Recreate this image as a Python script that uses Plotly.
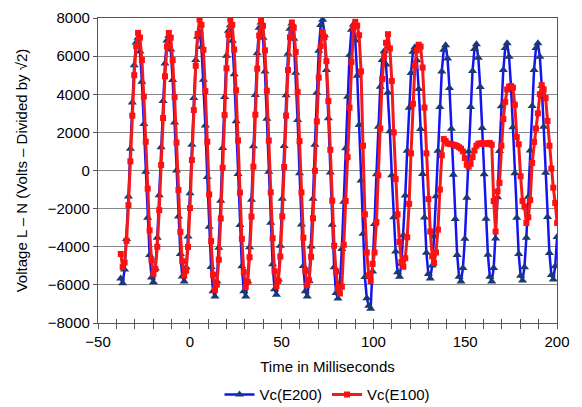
import plotly.graph_objects as go

# Sampled record: one sample every SAMPLE_MS milliseconds starting at START_MS
START_MS = -37.6
SAMPLE_MS = 1.047

# Phase C line-to-neutral voltage, case E200 (volts / sqrt(2))
vc_e200 = [
    -5670, -5918, -5192, -3593, -1366, 1147, 3562, 5524, 6715, 6968, 6245, 4652, 2433, -69, -2475, -4429,
    -5614, -5868, -5140, -3534, -1298, 1224, 3649, 5618, 6814, 7068, 6342, 4743, 2516, 3, -2412, -4374,
    -5561, -5817, -5081, -3457, -1195, 1356, 3809, 5801, 7011, 7265, 6484, 4761, 2362, -345, -2946, -5060,
    -6335, -6614, -5813, -4047, -1588, 1186, 3853, 6020, 7335, 7614, 6813, 5047, 2588, -186, -2853, -5020,
    -6332, -6614, -5805, -4020, -1535, 1269, 3964, 6153, 7482, 7764, 6961, 5188, 2720, -64, -2740, -4914,
    -6235, -6514, -5713, -3947, -1488, 1286, 3953, 6120, 7435, 7714, 6908, 5129, 2652, -141, -2827, -5008,
    -6329, -6614, -5796, -3993, -1482, 1351, 4074, 6286, 7629, 7913, 7090, 5275, 2746, -106, -2847, -5074,
    -6432, -6714, -5905, -4120, -1635, 1169, 3864, 6053, 7382, 7663, 6823, 4970, 2390, -520, -3318, -5590,
    -6700, -7100, -7250, -5300, -2800, -200, 2300, 4400, 5800, 6250, 5557, 4093, 2055, -244, -2454, -4249,
    -5334, -5570, -4892, -3398, -1317, 1031, 3287, 5121, 6234, 6470, 5786, 4280, 2181, -186, -2461, -4309,
    -5429, -5669, -4980, -3461, -1346, 1040, 3334, 5198, 6329, 6569, 5872, 4334, 2193, -223, -2545, -4431,
    -5575, -5819, -5119, -3575, -1425, 1000, 3331, 5225, 6375, 6619, 5919, 4375, 2225, -200, -2531, -4425,
    -5574, -5819, -5116, -3566, -1407, 1027, 3368, 5269, 6424, 6669, 5969, 4425, 2275, -150, -2481, -4375,
    -5525, -5769, -5069, -3525, -1375, 1050, 3381, 5275, 6425, 6669, 5972, 4434, 2293, -123, -2445, -4331,
    -5476, -5719, -5022, -3484,
]

# Phase C line-to-neutral voltage, case E100 (volts / sqrt(2))
vc_e100 = [
    -4378, -5069, -4828, -3692, -1821, 482, 2878, 5002, 6528, 7219, 6971, 5802, 3878, 1510, -954, -3139,
    -4707, -5418, -5171, -4002, -2078, 290, 2754, 4939, 6507, 7218, 6968, 5791, 3852, 1464, -1019, -3220,
    -4760, -5516, -5253, -4011, -1966, 552, 3171, 5493, 7160, 7916, 7637, 6326, 4167, 1509, -1256, -3707,
    -5466, -6264, -5987, -4676, -2517, 141, 2906, 5357, 7116, 7914, 7640, 6343, 4206, 1577, -1159, -3584,
    -5328, -6115, -5841, -4548, -2420, 201, 2926, 5343, 7078, 7865, 7592, 6304, 4183, 1572, -1144, -3552,
    -5287, -6065, -5794, -4515, -2410, 183, 2879, 5270, 6987, 7765, 7495, 6221, 4123, 1540, -1147, -3529,
    -5269, -6017, -5756, -4528, -2506, -16, 2574, 4870, 6519, 7267, 6998, 5733, 3649, 1085, -1583, -3948,
    -5300, -6200, -6450, -6100, -3900, -1600, 700, 3300, 5700, 7500, 7800, 7600, 7100, 5200, 1300, -2300,
    -4300, -5500, -5800, -4900, -4300, -2700, -250, 2200, 4800, 6000, 6700, 7150, 6400, 4700, 2000, -450,
    -2300, -3750, -4800, -5050, -4600, -3500, -1750, 900, 3500, 5500, 6300, 6600, 6500, 5400, 3300, 900,
    -1500, -3200, -4500, -4850, -4300, -3100, -1000, 800, 1650, 1550, 1420, 1400, 1380, 1350, 1330, 1280,
    1220, 1150, 1000, 650, 300, 200, 350, 700, 1050, 1300, 1400, 1420, 1430, 1420, 1400, 1420,
    1450, 1350, -1600, -3200, -1100, -650, 1300, 2700, 3600, 4250, 4400, 4430, 4350, 3450, 1750, 1380,
    -300, -1600, -1900, -2750, -2450, -1550, 400, 1500, 2200, 3000, 4000, 4480, 4250, 3800, 2600, 1300,
    100, -900, -1700, -2750,
]

time_ms = [START_MS + i * SAMPLE_MS for i in range(len(vc_e200))]

FONT = "Liberation Sans, Arial, sans-serif"

fig = go.Figure()
fig.add_trace(go.Scatter(
    x=time_ms, y=vc_e200, name="Vc(E200)", mode="lines+markers",
    line=dict(color="#1414f0", width=2.5),
    marker=dict(symbol="triangle-up", size=8, color="#1b3a73"),
))
fig.add_trace(go.Scatter(
    x=time_ms, y=vc_e100, name="Vc(E100)", mode="lines+markers",
    line=dict(color="#f21a1a", width=3),
    marker=dict(symbol="square", size=6, color="#ff1010"),
))

# Secondary x axis only for the inner half of the cross-style tick marks
fig.add_trace(go.Scatter(x=[None], y=[None], xaxis="x2", showlegend=False, hoverinfo="skip"))

fig.update_layout(
    width=582, height=407,
    margin=dict(l=98, r=25, t=18, b=84, autoexpand=False),
    paper_bgcolor="white", plot_bgcolor="white",
    font=dict(family=FONT, size=15, color="black"),
    showlegend=True,
    legend=dict(orientation="h", x=0.5, xanchor="center",
                yref="container", y=0.03, yanchor="middle",
                font=dict(size=15), itemwidth=30, tracegroupgap=0),
    xaxis=dict(
        range=[-50, 200], dtick=50, tick0=0, automargin=False,
        showgrid=False, zeroline=False,
        showline=True, linecolor="#555555", linewidth=1.2, mirror=True,
        ticks="outside", ticklen=5, tickcolor="#555555",
        minor=dict(dtick=10, ticks="outside", ticklen=5, tickcolor="#555555"),
        tickfont=dict(size=15),
        title=dict(text="Time in Milliseconds", font=dict(size=15), standoff=12),
    ),
    xaxis2=dict(
        overlaying="x", matches="x", side="bottom", anchor="y",
        range=[-50, 200], dtick=10, showticklabels=False, showgrid=False,
        zeroline=False, showline=False,
        ticks="inside", ticklen=4, tickcolor="#555555",
    ),
    yaxis=dict(
        range=[-8000, 8000], dtick=2000, automargin=False,
        showgrid=True, gridcolor="#8a8a8a", gridwidth=1,
        zeroline=False,
        showline=True, linecolor="#555555", linewidth=1.2, mirror=True,
        ticks="outside", ticklen=4, tickcolor="#555555",
        tickfont=dict(size=15),
        title=dict(text="Voltage L \u2013 N (Volts \u2013 Divided by \u221a2)", font=dict(size=15), standoff=16),
    ),
)

fig.write_html("out.html")
